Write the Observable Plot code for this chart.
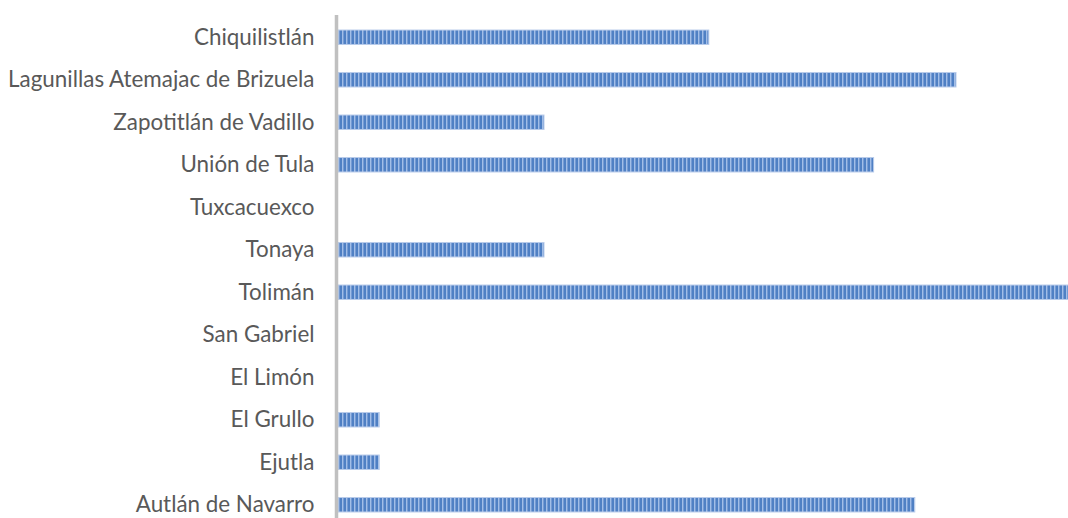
<!DOCTYPE html>
<html>
<head>
<meta charset="utf-8">
<script src="https://cdn.jsdelivr.net/npm/d3@7"></script>
<script src="https://cdn.jsdelivr.net/npm/@observablehq/plot@0.6"></script>
<style>
  html, body { margin: 0; padding: 0; background: #fff; overflow: hidden; }
  #chart svg { display: block; }
</style>
</head>
<body>
<div id="chart"></div>
<script>
const municipios = [
  "Chiquilistlán",
  "Lagunillas Atemajac de Brizuela",
  "Zapotitlán de Vadillo",
  "Unión de Tula",
  "Tuxcacuexco",
  "Tonaya",
  "Tolimán",
  "San Gabriel",
  "El Limón",
  "El Grullo",
  "Ejutla",
  "Autlán de Navarro"
];
const valores = [18, 30, 10, 26, 0, 10, 36, 0, 0, 2, 2, 28];

const data = municipios.map((m, i) => ({municipio: m, valor: valores[i]}));

const plot = Plot.plot({
  width: 1068,
  height: 518,
  marginTop: 15,
  marginBottom: 0,
  marginLeft: 338,
  marginRight: 0,
  style: {fontFamily: "Lato, 'Noto Sans', sans-serif", color: "#595959", background: "#fff"},
  x: {domain: [0, 36], range: [338, 338 + 36 * 20.6], axis: null},
  y: {domain: municipios, range: [16, 526], round: false, paddingInner: 0.66, paddingOuter: 0.33, label: null},
  marks: [
    Plot.barX(data, {
      x: "valor",
      y: "municipio",
      fill: "url(#stripes)",
      stroke: "#b8cbea",
      strokeWidth: 1,
      clip: true
    }),
    Plot.ruleX([0], {stroke: "#c0c0c0", strokeWidth: 3.5, dx: -2}),
    Plot.axisY({tickSize: 0, tickPadding: 24, fontSize: 22.4, fill: "#595959", label: null})
  ]
});

const ns = "http://www.w3.org/2000/svg";
const defs = document.createElementNS(ns, "defs");
defs.innerHTML = `
  <pattern id="stripes" patternUnits="userSpaceOnUse" x="0" y="0" width="4" height="10">
    <rect x="0" y="0" width="4" height="10" fill="#4f80c4"/>
    <rect x="2" y="0" width="1" height="10" fill="#a2bee7"/>
    <rect x="3" y="0" width="1" height="10" fill="#759bd4"/>
  </pattern>`;
plot.insertBefore(defs, plot.firstChild);

document.getElementById("chart").appendChild(plot);
</script>
</body>
</html>
